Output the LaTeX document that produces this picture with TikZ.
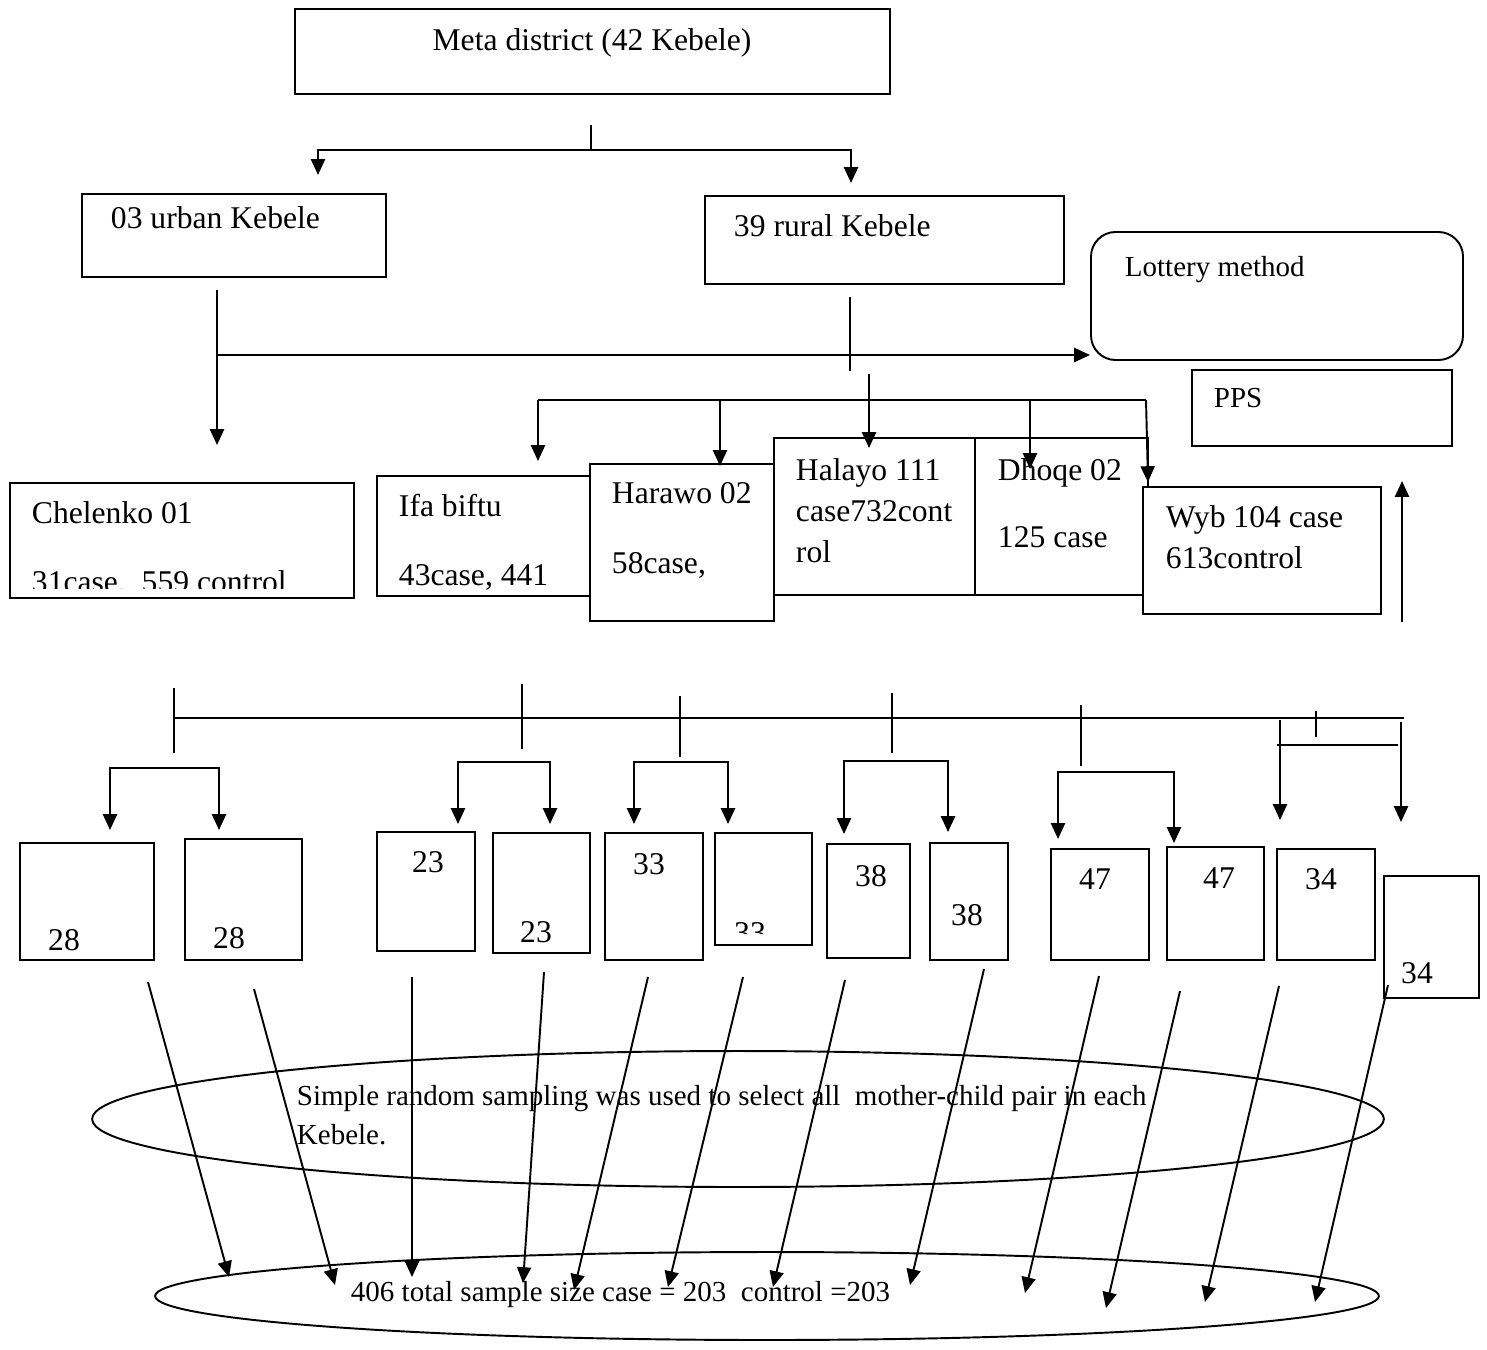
\documentclass[tikz,border=0pt]{standalone}
\usepackage{fontspec}
\setmainfont{Liberation Serif}
\usetikzlibrary{arrows.meta,fit,shapes.geometric}

\begin{document}
\begin{tikzpicture}[x=0.02cm,y=-0.02cm,line width=1.1pt,
    box/.style={draw,fill=white,inner sep=0pt},
    oval/.style={draw,ellipse,inner sep=0pt},
    txt/.style={anchor=base west,inner sep=0pt,font=\fontsize{18}{22}\selectfont},
    stxt/.style={anchor=base west,inner sep=0pt,font=\fontsize{16.5}{20}\selectfont},
    num/.style={anchor=base,inner sep=0pt,font=\fontsize{18}{22}\selectfont},
    arr/.style={-{Triangle[length=9pt,width=8pt]}},
    darr/.style={{Triangle[length=9pt,width=8pt]}-{Triangle[length=9pt,width=8pt]}}]
\useasboundingbox (0,0) rectangle (1487,1349);

            \node[box,fit={(295,9) (890,94)}] (top) {};
            \node[txt,anchor=base] (topT) at (592,50) {Meta district (42 Kebele)};
            \node[box,fit={(82,194) (386,277)}] (urb) {};
            \node[txt] (urbT) at (110,228) {03 urban Kebele};
            \node[box,fit={(705,196) (1064,284)}] (rur) {};
            \node[txt] (rurT) at (733,236) {39 rural Kebele};
            \node[box,rounded corners=14pt,fit={(1091,232) (1463,360)}] (lot) {};
            \node[stxt] (lotT) at (1124,276) {Lottery method};
            \node[box,fit={(1192,370) (1452,446)}] (pps) {};
            \node[stxt] (ppsT) at (1213,407) {PPS};

            \coordinate (j0) at (591,125);
            \coordinate (j1) at (591,150);
            \coordinate (uA) at (318,175);
            \coordinate (rA) at (851,183);
            \draw (j0) to (j1);
            \draw[arr] (j1) -| (uA);
            \draw[arr] (j1) -| (rA);

            \coordinate (u0) at (217,290);
            \coordinate (u1) at (217,445);
            \coordinate (u2) at (217,355);
            \draw[arr] (u0) to (u1);
            \draw[arr] (u2) to (lot.west |- u2);
            \coordinate (r0) at (850,297);
            \coordinate (r1) at (850,371);
            \draw (r0) to (r1);

            \node[box,fit={(10,483) (354,598)}] (chel) {};
            \node[txt] (chelA) at (31,523) {Chelenko 01};
            \begin{scope}
              \clip (10,483) rectangle (354,588);
              \node[txt] (chelB) at (31,592) {31case,\ \ 559 control};
            \end{scope}
            \node[box,fit={(377,476) (590,596)}] (ifa) {};
            \node[txt] (ifaA) at (398,516) {Ifa biftu};
            \node[txt] (ifaB) at (398,585) {43case, 441};
            \node[box,fit={(590,464) (774,621)}] (har) {};
            \node[txt] (harA) at (611,503) {Harawo 02};
            \node[txt] (harB) at (611,573) {58case,};
            \node[box,fit={(774,438) (975,595)}] (hal) {};
            \node[txt] (halA) at (795,480) {Halayo 111};
            \node[txt] (halB) at (795,521) {case732cont};
            \node[txt] (halC) at (795,562) {rol};
            \node[box,fit={(975,438) (1148,595)}] (dho) {};
            \node[txt] (dhoA) at (997,480) {Dhoqe 02};
            \node[txt] (dhoB) at (997,547) {125 case};
            \node[box,fit={(1143,487) (1381,614)}] (wyb) {};
            \node[txt] (wybA) at (1165,527) {Wyb 104 case};
            \node[txt] (wybB) at (1165,568) {613control};

            \coordinate (h0) at (869,374);
            \coordinate (h1) at (869,448);
            \draw[arr] (h0) to (h1);
            \coordinate (k0) at (538,400);
            \coordinate (k1) at (720,400);
            \coordinate (k2) at (1030,400);
            \coordinate (k3) at (1146,400);
            \draw (k0) to (k3);
            \draw[arr] (k0) to (538,461);
            \draw[arr] (k1) to (720,466);
            \draw[arr] (k2) to (1030,469);
            \draw[arr] (k3) to (1148,482);
            \coordinate (up0) at (1402,622);
            \coordinate (up1) at (1402,481);
            \draw[arr] (up0) to (up1);

            \coordinate (b0) at (174,718);
            \coordinate (b1) at (1404,718);
            \draw (b0) to (b1);
            \draw (174,688) to (174,753);
            \draw (522,684) to (522,749);
            \draw (680,696) to (680,757);
            \draw (892,693) to (892,753);
            \draw (1081,705) to (1081,766);
            \draw (1316,711) to (1316,737);

            \coordinate (m1) at (164,768);
            \coordinate (m2) at (504,762);
            \coordinate (m3) at (681,762);
            \coordinate (m4) at (896,761);
            \coordinate (m5) at (1116,772);
            \draw[darr] (110,830) |- (m1) -| (219,830);
            \draw[darr] (458,824) |- (m2) -| (550,824);
            \draw[darr] (634,824) |- (m3) -| (728,824);
            \draw[darr] (844,834) |- (m4) -| (948,832);
            \draw[darr] (1058,839) |- (m5) -| (1174,843);
            \draw[arr] (1280,720) to (1280,820);
            \draw[arr] (1401,722) to (1401,822);
            \draw (1277,745) to (1398,745);

            \node[box,fit={(20,843) (154,960)}] (s1) {};
            \node[num] (s1T) at (64,950) {28};
            \node[box,fit={(185,839) (302,960)}] (s2) {};
            \node[num] (s2T) at (229,948) {28};
            \node[box,fit={(377,832) (475,951)}] (s3) {};
            \node[num] (s3T) at (428,872) {23};
            \node[box,fit={(493,833) (590,953)}] (s4) {};
            \node[num] (s4T) at (536,942) {23};
            \node[box,fit={(605,833) (703,960)}] (s5) {};
            \node[num] (s5T) at (649,874) {33};
            \node[box,fit={(715,833) (812,945)}] (s6) {};
            \begin{scope}
              \clip (715,833) rectangle (812,933);
              \node[num] (s6T) at (750,943) {33};
            \end{scope}
            \node[box,fit={(827,844) (910,958)}] (s7) {};
            \node[num] (s7T) at (871,886) {38};
            \node[box,fit={(930,843) (1008,960)}] (s8) {};
            \node[num] (s8T) at (967,925) {38};
            \node[box,fit={(1051,849) (1149,960)}] (s9) {};
            \node[num] (s9T) at (1095,889) {47};
            \node[box,fit={(1167,847) (1264,960)}] (s10) {};
            \node[num] (s10T) at (1219,888) {47};
            \node[box,fit={(1277,849) (1375,960)}] (s11) {};
            \node[num] (s11T) at (1321,889) {34};
            \node[box,fit={(1384,876) (1479,998)}] (s12) {};
            \node[num] (s12T) at (1417,983) {34};

            \node[oval,minimum width=25.84cm,minimum height=2.72cm] (e1) at (738,1119) {};
            \node[stxt] (e1A) at (296,1105) {Simple random sampling was used to select all\ \ mother-child pair in each};
            \node[stxt] (e1B) at (296,1144) {Kebele.};
            \node[oval,minimum width=24.48cm,minimum height=1.76cm] (e2) at (767,1296) {};
            \node[stxt] (e2A) at (350,1301) {406 total sample size case = 203\ \ control =203};

            \coordinate (a1) at (148,982);   \coordinate (z1) at (229,1277);
            \coordinate (a2) at (254,989);   \coordinate (z2) at (335,1285);
            \coordinate (a3) at (412,977);   \coordinate (z3) at (412,1277);
            \coordinate (a4) at (544,972);   \coordinate (z4) at (523,1283);
            \coordinate (a5) at (648,977);   \coordinate (z5) at (574,1290);
            \coordinate (a6) at (743,977);   \coordinate (z6) at (668,1287);
            \coordinate (a7) at (845,980);   \coordinate (z7) at (773,1287);
            \coordinate (a8) at (984,969);   \coordinate (z8) at (910,1285);
            \coordinate (a9) at (1099,976);  \coordinate (z9) at (1025,1293);
            \coordinate (a10) at (1180,991); \coordinate (z10) at (1106,1308);
            \coordinate (a11) at (1279,986); \coordinate (z11) at (1205,1302);
            \coordinate (a12) at (1388,985); \coordinate (z12) at (1315,1302);
            \draw[arr] (a1) to (z1);
            \draw[arr] (a2) to (z2);
            \draw[arr] (a3) to (z3);
            \draw[arr] (a4) to (z4);
            \draw[arr] (a5) to (z5);
            \draw[arr] (a6) to (z6);
            \draw[arr] (a7) to (z7);
            \draw[arr] (a8) to (z8);
            \draw[arr] (a9) to (z9);
            \draw[arr] (a10) to (z10);
            \draw[arr] (a11) to (z11);
            \draw[arr] (a12) to (z12);
\end{tikzpicture}
\end{document}
